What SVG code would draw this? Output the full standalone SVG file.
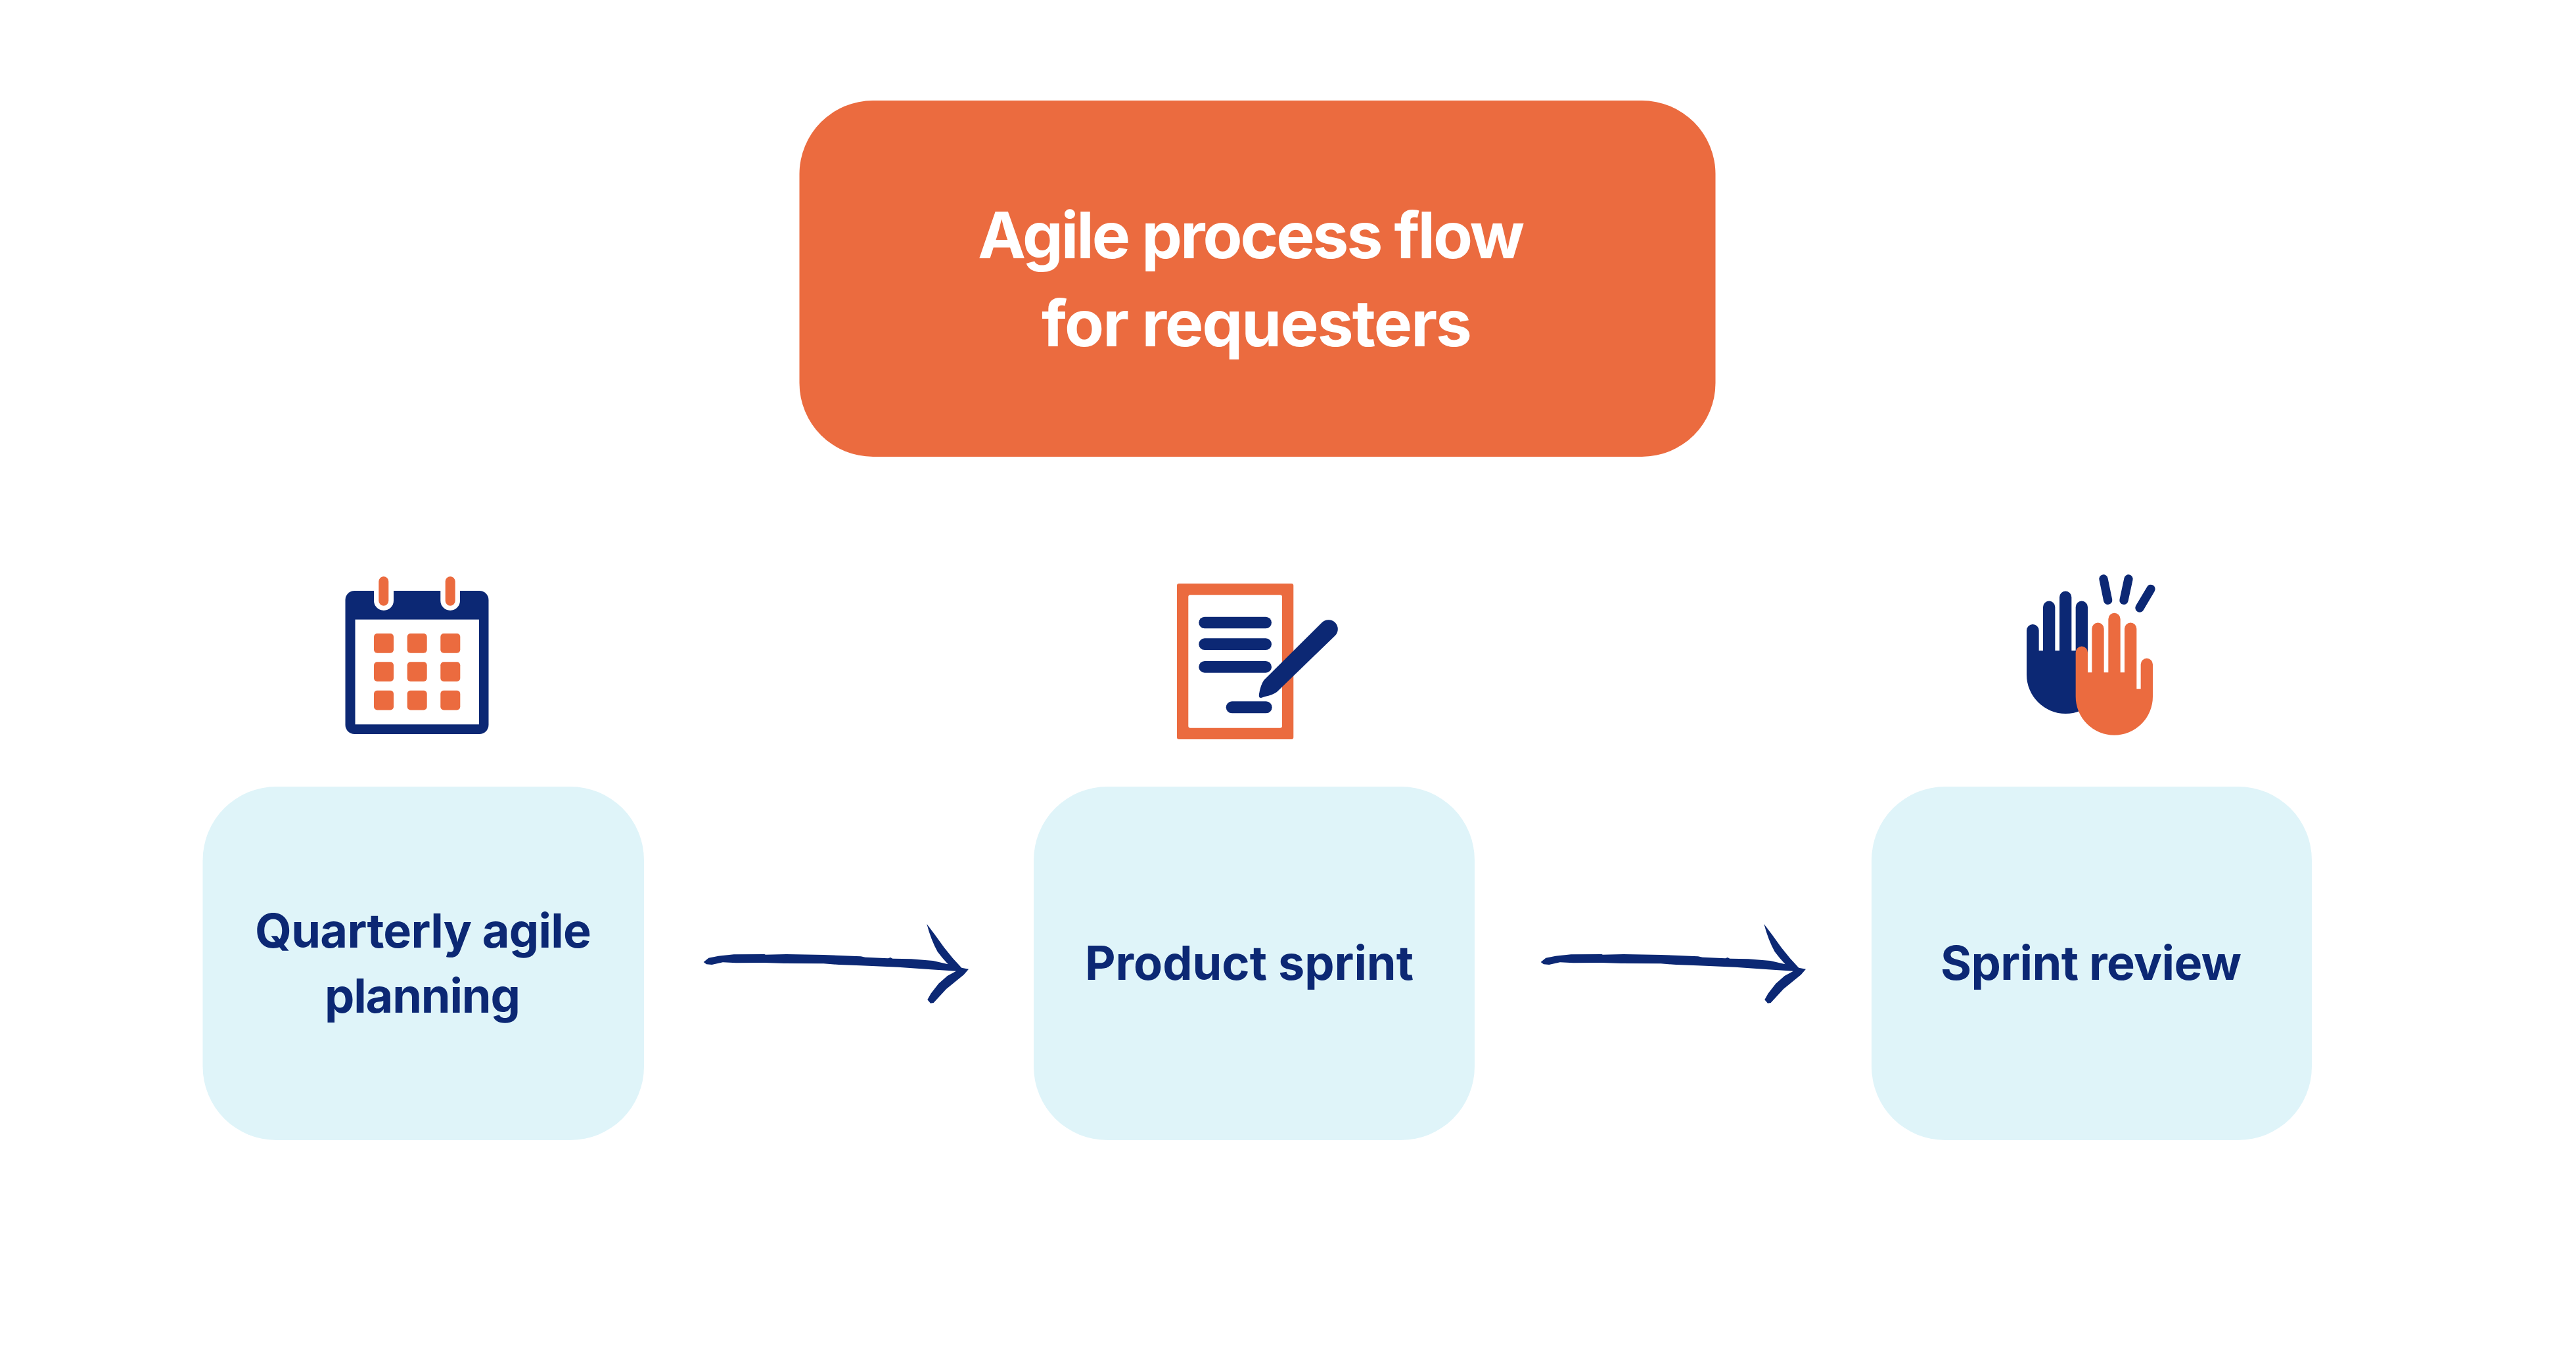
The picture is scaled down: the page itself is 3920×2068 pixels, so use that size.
<svg xmlns="http://www.w3.org/2000/svg" xmlns:xlink="http://www.w3.org/1999/xlink" width="3920" height="2068" viewBox="0 0 3920 2068">
<style>
.t{font-family:"Inter","Liberation Sans",sans-serif;font-weight:700}
.h{font-size:98px;fill:#fff}
.l{font-size:72px;fill:#0c2874}
.box{fill:#dff4f9}
.o{fill:#eb6b3f}
.n{fill:#0c2874}
.w{fill:#fff}
.spark{stroke:#0c2874;stroke-width:40;stroke-linecap:round;fill:none}
</style>
<defs>
<path id="arrow" class="n" d="M62,252 L85,233 L130,224 L200,217 L340,216 L345,218 L440,216 L610,219 L780,226 L800,230 L905,235 L915,231 L925,236 L1010,238 L1110,246 L1178,262 Q1150,232 1130,205 Q1100,150 1081,78 L1120,130 L1160,185 L1200,235 L1240,278 L1272,284 L1250,310 L1215,338 L1170,375 L1112,438 L1098,440 L1084,424 L1100,395 L1135,350 L1175,315 L1215,293 L1100,286 L950,275 L780,268 L680,264 L610,259 L430,258 L340,255 L210,256 L150,253 L100,264 L75,262 Z"/>
</defs>
<rect width="3920" height="2068" fill="#fff"/>

<g id="title">
<rect class="o" x="1216.5" y="153" width="1394" height="542" rx="112"/>
<text class="t h" x="1488" y="393" textLength="832" lengthAdjust="spacing">Agile process flow</text>
<text class="t h" x="1585" y="527" textLength="655" lengthAdjust="spacing">for requesters</text>
</g>

<g id="node-quarterly">
<rect class="box" x="308.5" y="1197" width="671.5" height="538" rx="112"/>
<text class="t l" x="388" y="1442" textLength="512" lengthAdjust="spacing">Quarterly agile</text>
<text class="t l" x="494" y="1541" textLength="298" lengthAdjust="spacing">planning</text>
<g id="icon-calendar">
<rect class="n" x="525.5" y="899" width="218" height="218" rx="14"/>
<rect class="w" x="540.5" y="942.7" width="188.4" height="159.6"/>
<path class="w" d="M569,895 H599 V914 A15,15 0 0 1 569,914 Z M670.3,895 H700 V914 A14.85,15 0 0 1 670.3,914 Z"/>
<rect class="o" x="576.3" y="877.3" width="15" height="44.4" rx="7.5"/>
<rect class="o" x="677.7" y="877.3" width="15" height="44.4" rx="7.5"/>
<rect class="o" x="569" y="964" width="30" height="29.7" rx="5"/>
<rect class="o" x="619.7" y="964" width="30" height="29.7" rx="5"/>
<rect class="o" x="670.3" y="964" width="30" height="29.7" rx="5"/>
<rect class="o" x="569" y="1007.3" width="30" height="29.7" rx="5"/>
<rect class="o" x="619.7" y="1007.3" width="30" height="29.7" rx="5"/>
<rect class="o" x="670.3" y="1007.3" width="30" height="29.7" rx="5"/>
<rect class="o" x="569" y="1050.7" width="30" height="29.7" rx="5"/>
<rect class="o" x="619.7" y="1050.7" width="30" height="29.7" rx="5"/>
<rect class="o" x="670.3" y="1050.7" width="30" height="29.7" rx="5"/>
</g>
</g>

<g id="node-sprint">
<rect class="box" x="1573" y="1197" width="671" height="538" rx="112"/>
<text class="t l" x="1651" y="1491" textLength="500" lengthAdjust="spacing">Product sprint</text>
<g id="icon-document">
<rect class="o" x="1791" y="888" width="177.3" height="237" rx="3"/>
<rect class="w" x="1808.3" y="905.3" width="142.7" height="202.4" rx="3"/>
<rect class="n" x="1824.3" y="938.7" width="110.7" height="17.6" rx="8.8"/>
<rect class="n" x="1824.3" y="971.3" width="110.7" height="17.7" rx="8.8"/>
<rect class="n" x="1824.3" y="1006" width="110.7" height="17.7" rx="8.8"/>
<rect class="n" x="1865.7" y="1067.3" width="70" height="18" rx="9"/>
<path class="n" d="M2011.7,947.3 A14,14 0 0 1 2031.7,967.3 L1943,1053 Q1936,1058 1925,1060 L1919,1062 Q1915,1062 1916,1056 Q1918,1043 1923.3,1035 Z"/>
</g>
</g>

<g id="node-review">
<rect class="box" x="2848" y="1197" width="670" height="538" rx="112"/>
<text class="t l" x="2953" y="1491" textLength="458" lengthAdjust="spacing">Sprint review</text>
<g id="icon-hands" transform="translate(3040 850) scale(.33333)">
<path class="n" d="M132,328 a28,28 0 0 1 56,0 V420 H207 V221 a27.5,27.5 0 0 1 55,0 V420 H282 V176 a27.5,27.5 0 0 1 55,0 V420 H356 V221 a27.5,27.5 0 0 1 55,0 V530 H488 A178,178 0 0 1 132,530 Z"/>
<path class="o" d="M356,428 a27.5,27.5 0 0 1 55,0 V520 H430 V320 a27.5,27.5 0 0 1 55,0 V520 H505 V276 a27.5,27.5 0 0 1 55,0 V520 H579 V320 a27.5,27.5 0 0 1 55,0 V595 H653 V483 a27.5,27.5 0 0 1 55,0 V630 A176,176 0 0 1 356,630 Z"/>
<path class="spark" d="M483,93 L503,190 M597,93 L576,190 M699,139 L648,225"/>
</g>
</g>

<g id="connectors">
<use xlink:href="#arrow" href="#arrow" transform="translate(1050 1380) scale(.33333)"/>
<use xlink:href="#arrow" href="#arrow" transform="translate(2324 1380) scale(.33333)"/>
</g>
</svg>
